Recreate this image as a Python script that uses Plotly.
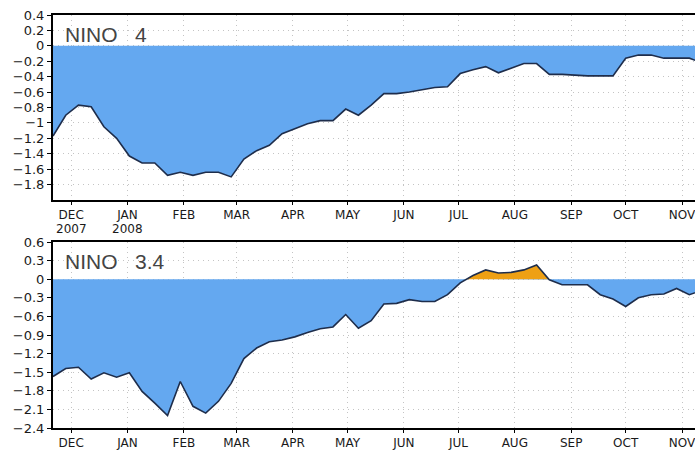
import datetime as dt
import plotly.graph_objects as go

start = dt.date(2007, 11, 21)
n_weeks = 52
dates = [start + dt.timedelta(days=7 * i) for i in range(n_weeks)]

nino4 = [-1.17, -0.90, -0.77, -0.79, -1.05, -1.20, -1.43, -1.52, -1.52, -1.68,
         -1.64, -1.68, -1.64, -1.64, -1.70, -1.47, -1.36, -1.29, -1.14, -1.07,
         -1.01, -0.97, -0.97, -0.82, -0.90, -0.77, -0.62, -0.62, -0.60, -0.57,
         -0.54, -0.53, -0.36, -0.31, -0.27, -0.35, -0.29, -0.23, -0.23, -0.37,
         -0.37, -0.38, -0.39, -0.39, -0.39, -0.16, -0.12, -0.12, -0.16, -0.16,
         -0.16, -0.22]

nino34 = [-1.57, -1.44, -1.42, -1.61, -1.51, -1.58, -1.51, -1.81, -2.00, -2.20,
          -1.65, -2.05, -2.16, -1.97, -1.68, -1.28, -1.11, -1.01, -0.98, -0.93,
          -0.86, -0.80, -0.77, -0.57, -0.79, -0.67, -0.40, -0.39, -0.33, -0.36,
          -0.36, -0.25, -0.06, 0.06, 0.15, 0.10, 0.11, 0.15, 0.23, -0.01,
          -0.09, -0.09, -0.09, -0.25, -0.32, -0.44, -0.30, -0.25, -0.24, -0.15,
          -0.25, -0.18]

month_ticks = [dt.date(2007, 12, 1)] + [dt.date(2008, m, 1) for m in range(1, 12)]
month_names = ["DEC", "JAN", "FEB", "MAR", "APR", "MAY", "JUN", "JUL", "AUG", "SEP", "OCT", "NOV"]
year_labels = ["2007", "2008"]
year_ticks = month_ticks[:2]

y4_ticks = [0.4, 0.2, 0, -0.2, -0.4, -0.6, -0.8, -1, -1.2, -1.4, -1.6, -1.8]
y34_ticks = [0.6, 0.3, 0, -0.3, -0.6, -0.9, -1.2, -1.5, -1.8, -2.1, -2.4]

BLUE = "rgb(100,168,240)"
ORANGE = "rgb(238,160,20)"
LINE = "rgb(30,45,75)"


def split_sign(xs, ys):
    """Return (x, neg, pos) with zero-crossing points inserted."""
    to_t = lambda d: dt.datetime.combine(d, dt.time())
    X, N, P = [], [], []
    for i in range(len(ys)):
        if i > 0 and (ys[i - 1] < 0) != (ys[i] < 0) and ys[i - 1] != 0 and ys[i] != 0:
            f = ys[i - 1] / (ys[i - 1] - ys[i])
            t0, t1 = to_t(xs[i - 1]), to_t(xs[i])
            X.append(t0 + (t1 - t0) * f)
            N.append(0.0)
            P.append(0.0)
        X.append(to_t(xs[i]))
        N.append(min(ys[i], 0.0))
        P.append(max(ys[i], 0.0))
    return X, N, P


fig = go.Figure()
for vals, ax in [(nino4, ""), (nino34, "2")]:
    X, N, P = split_sign(dates, vals)
    fig.add_trace(go.Scatter(x=X, y=N, mode="lines", fill="tozeroy", fillcolor=BLUE,
                             line=dict(width=0), xaxis="x" + ax, yaxis="y" + ax,
                             hoverinfo="skip", showlegend=False))
    fig.add_trace(go.Scatter(x=X, y=P, mode="lines", fill="tozeroy", fillcolor=ORANGE,
                             line=dict(width=0), xaxis="x" + ax, yaxis="y" + ax,
                             hoverinfo="skip", showlegend=False))
    fig.add_trace(go.Scatter(x=dates, y=vals, mode="lines",
                             line=dict(color=LINE, width=1.6), xaxis="x" + ax,
                             yaxis="y" + ax, showlegend=False))

tick_font = dict(family="DejaVu Sans, sans-serif", size=13, color="#1a1a1a")
xtick_font = dict(family="DejaVu Sans, sans-serif", size=12, color="#1a1a1a")
xrange_ = [dt.datetime(2007, 11, 21), dt.datetime(2008, 11, 8, 3)]
GRID = "#c4c4c4"

common_x = dict(type="date", range=xrange_, tickmode="array", tickvals=month_ticks,
                ticktext=month_names,
                showgrid=True, gridcolor=GRID, griddash="1px,4px", gridwidth=1,
                showline=True, linecolor="black", linewidth=2, mirror=True,
                ticks="outside", ticklen=3, tickcolor="black", tickfont=xtick_font,
                zeroline=False, automargin=False, ticklabeloverflow="allow")
common_y = dict(tickmode="array", showgrid=True, gridcolor=GRID, griddash="1px,4px",
                gridwidth=1, showline=True, linecolor="black", linewidth=2,
                ticks="outside", ticklen=4, tickcolor="black", tickfont=tick_font,
                zeroline=False, automargin=False, ticklabeloverflow="allow")


def fmt(v):
    return f"{v:g}".replace("-", "\u2212")


title_font = dict(family="Liberation Sans, Arial, sans-serif", size=21, color="#444")

W, H = 695, 454
annotations = [
    dict(text="NINO   4", xref="paper", yref="paper", x=10 / 642, y=1 - 34 / H,
         xanchor="left", yanchor="middle", showarrow=False, font=title_font),
    dict(text="NINO   3.4", xref="paper", yref="paper", x=10 / 642, y=1 - 261 / H,
         xanchor="left", yanchor="middle", showarrow=False, font=title_font),
]
for d, lab in zip(year_ticks, year_labels):
    annotations.append(dict(text=lab, xref="x", yref="paper", x=d, y=1 - 229 / H,
                            xanchor="center", yanchor="middle", showarrow=False,
                            font=xtick_font))

fig.update_layout(
    width=W, height=H,
    margin=dict(l=53, r=0, t=0, b=0),
    paper_bgcolor="white", plot_bgcolor="white",
    xaxis=dict(common_x, anchor="y", domain=[0, 1]),
    yaxis=dict(common_y, tickvals=y4_ticks, ticktext=[fmt(v) for v in y4_ticks],
               range=[-2.0, 0.4], domain=[1 - 200 / H, 1 - 15 / H], anchor="x"),
    xaxis2=dict(common_x, anchor="y2", domain=[0, 1]),
    yaxis2=dict(common_y, tickvals=y34_ticks, ticktext=[fmt(v) for v in y34_ticks],
                range=[-2.4, 0.6], domain=[1 - 428 / H, 1 - 242 / H], anchor="x2"),
    annotations=annotations,
)

fig.write_html("out.html", config={"displayModeBar": False},
               post_script="document.body.style.margin='0';document.body.style.overflow='hidden';")
